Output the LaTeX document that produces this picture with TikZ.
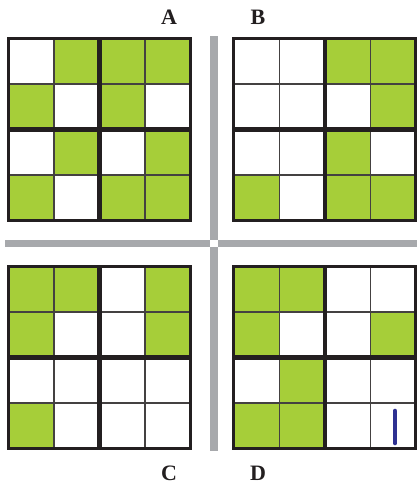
\documentclass[tikz,border=0pt]{standalone}
\usepackage{fontspec}
\setmainfont{Liberation Serif}
\definecolor{cellgreen}{RGB}{166,206,57}
\definecolor{bargray}{RGB}{167,169,172}
\definecolor{gridink}{RGB}{35,31,32}
\definecolor{penblue}{RGB}{46,49,146}
\tikzset{
  thinline/.style={draw=gridink!85, line width=1.1pt},
  thickline/.style={draw=gridink, line width=4.5pt},
  outerline/.style={draw=gridink, line width=3.2pt},
  sepbar/.style={fill=bargray},
  letter/.style={anchor=base, font=\fontsize{22}{24}\selectfont\bfseries, text=gridink, inner sep=0pt},
  penmark/.style={draw=penblue, line width=4.6pt, line cap=round}
}
\begin{document}
\begin{tikzpicture}[x=1pt,y=-1pt]
\useasboundingbox (0,0) rectangle (417,487);
\fill[white] (0,0) rectangle (417,487);
% separator bars
\fill[sepbar] (210,36) rectangle (217.5,240);
\fill[sepbar] (210,247) rectangle (217.5,451);
\fill[sepbar] (5,240) rectangle (210,247);
\fill[sepbar] (217.5,240) rectangle (417,247);
% grids
\def\cs{45.5}
\foreach \gx/\gy/\pat in {
  8.5/38.5/{0,1,1,1,1,0,1,0,0,1,0,1,1,0,1,1},
  233.8/38.5/{0,0,1,1,0,0,0,1,0,0,1,0,1,0,1,1},
  8.5/266.5/{1,1,0,1,1,0,0,1,0,0,0,0,1,0,0,0},
  233.8/266.5/{1,1,0,0,1,0,0,1,0,1,0,0,1,1,0,0}}{
  \foreach \v [count=\i from 0] in \pat {
    \pgfmathtruncatemacro{\col}{mod(\i,4)}
    \pgfmathtruncatemacro{\row}{int(\i/4)}
    \ifnum\v=1
      \fill[cellgreen] ({\gx+\col*\cs},{\gy+\row*\cs}) rectangle ++(\cs,\cs);
    \fi
  }
  \foreach \k in {1,3}{
    \draw[thinline] ({\gx+\k*\cs},\gy) -- ++(0,4*\cs);
    \draw[thinline] (\gx,{\gy+\k*\cs}) -- ++(4*\cs,0);
  }
  \draw[thickline] ({\gx+2*\cs},\gy) -- ++(0,4*\cs);
  \draw[thickline] (\gx,{\gy+2*\cs}) -- ++(4*\cs,0);
  \draw[outerline] (\gx,\gy) rectangle ++(4*\cs,4*\cs);
}
% pen mark in D
\coordinate (mtop) at (395,411);
\coordinate (mbot) at (395,443);
\draw[penmark] (mtop) -- (mbot);
% labels
\node[letter] (lA) at (169,25) {A};
\node[letter] (lB) at (258,25) {B};
\node[letter] (lC) at (169,480) {C};
\node[letter] (lD) at (258,480) {D};
\end{tikzpicture}
\end{document}
